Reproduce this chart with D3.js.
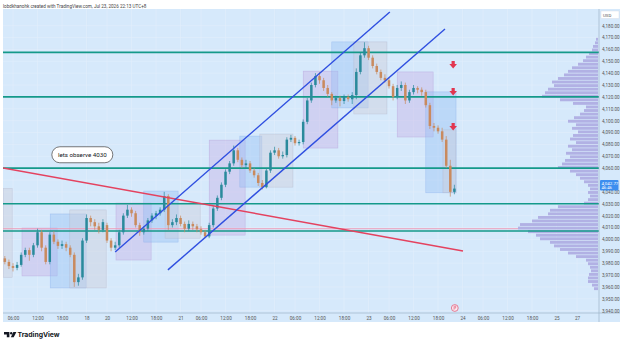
<!DOCTYPE html>
<html>
<head>
<meta charset="UTF-8">
<title>XAUUSD 1h</title>
<script src="https://cdnjs.cloudflare.com/ajax/libs/d3/7.8.5/d3.min.js"></script>
<style>
  html, body { margin: 0; padding: 0; background: #ffffff; }
  svg { display: block; font-family: Roboto, "DejaVu Sans", sans-serif; }
</style>
</head>
<body>
<div id="chart"></div>
<script>
    // hourly candles, index 0 = Fri 17 06:00
    const barIndex = [-2,-1,0,1,2,3,4,5,6,7,8,9,10,11,12,13,14,15,16,17,18,19,20,21,22,23,24,25,26,27,28,29,30,31,32,33,34,35,36,37,38,39,40,41,42,43,44,45,46,47,48,49,50,51,52,53,54,55,56,57,58,59,60,61,62,63,64,65,66,67,68,69,70,71,72,73,74,75,76,77,78,79,80,81,82,83,84,85,86,87,88,89,90,91,92,93,94,95,96,97,98,99,100,101,102,103,104,105,106,107,108];
    const opens  = [3984,3981,3977.5,3976,3978.5,3987,3991,3987,3995,4006,3993,3981,4004,3998,3994.5,3996,3993,3987,3964,3968,3999,4018,4014.5,4011,4008,4012,3999,3993,3995,4006,4020,4025,4022,4012,4006,4009,4016,4020,4022,4025,4036.5,4012,4014.5,4018,4013,4009,4013,4011,4008.5,4006,4002.5,4012,4026,4035,4046,4057,4064,4075,4067,4062.5,4064,4058,4054,4047.5,4044,4058,4073,4075,4070,4071,4084,4085.5,4081,4082,4099,4117,4130,4137.5,4134,4127.5,4122.5,4117,4119,4116.5,4120,4118,4121.5,4141,4155,4161,4153,4146,4141,4136,4134,4129,4120,4127.5,4130,4117,4124,4127.5,4126,4124,4113,4095.5,4094,4091,4084,4062,4040];
    const highs  = [3986,3983,3980,3981,3989,3993,3993,3997,4009,4008,3995,4006,4007,4000,3999,3998,3995,3989,3971,4001,4021,4020,4017,4014,4017,4014,4001,3998,4008,4022,4029,4027,4024,4014,4011,4018,4022,4024,4027,4040,4038,4017,4021,4020,4015,4016,4015,4013,4011,4008,4014,4028,4037,4048,4059,4066,4079,4077,4069,4067,4066,4060,4056,4050,4060,4075,4078,4077,4074,4086,4088,4087,4084,4101,4119,4132,4140,4141,4136,4130,4124,4121,4121,4122,4122,4124,4144,4157,4166,4163,4155,4148,4143,4139,4136,4131,4130,4133,4132,4126,4130,4129,4128,4126,4115,4098,4096,4094,4087,4067,4046];
    const lows   = [3979,3975,3973,3974,3977,3985,3982,3985,3993,3990,3979,3979,3996,3992,3992,3990,3985,3960,3961,3966,3997,4011,4008,4005,4006,3997,3990,3991,3993,4004,4018,4019,4010,4003,4004,4007,4014,4017,4020,4023,4008,4010,4012,4011,4006,4007,4008,4006,4004,4001,4001,4010,4024,4033,4044,4055,4062,4065,4060,4060,4056,4052,4045,4042,4043,4056,4071,4068,4068,4069,4082,4079,4079,4080,4097,4115,4128,4131,4125,4120,4113,4115,4112,4114,4116,4114,4118,4139,4153,4151,4144,4139,4134,4132,4127,4117,4118,4125,4114,4115,4122,4123,4121,4111,4093,4091,4089,4082,4060,4036,4038];
    const closes = [3981,3977.5,3976,3978.5,3987,3991,3987,3995,4006,3993,3981,4004,3998,3994.5,3996,3993,3987,3964,3968,3999,4018,4014.5,4011,4008,4014.5,3999,3993,3995,4006,4020,4025,4022,4012,4006,4009,4016,4020,4022,4025,4036.5,4012,4014.5,4018,4013,4009,4013,4011,4008.5,4006,4002.5,4012,4026,4035,4046,4057,4064,4075,4067,4062.5,4064,4058,4054,4047.5,4044,4058,4073,4075,4070,4071,4084,4085.5,4081,4082,4099,4117,4130,4137.5,4134,4127.5,4122.5,4117,4119,4116.5,4120,4118,4121.5,4141,4155,4161,4153,4146,4141,4136,4134,4129,4120,4127.5,4130,4117,4124,4127.5,4126,4124,4113,4095.5,4094,4091,4084,4062,4040,4042.77];

    // time axis
    const tickIndex  = [0,6,12,18,23,29,35,41,46,52,58,64,69,75,81,87,92,98,104,110,115,121,127,133,138];
    const tickLabels = ["06:00","12:00","18:00","18","20","12:00","18:00","21","06:00","12:00","18:00","22","06:00","12:00","18:00","23","06:00","12:00","18:00","24","06:00","12:00","18:00","25","27"];

    // price axis (4,050 sits under the last-price tag)
    const priceTicks = [3940,3950,3960,3970,3980,3990,4000,4010,4020,4030,4040,4060,4070,4080,4090,4100,4110,4120,4130,4140,4150,4160,4170,4180];
    const gridPrices = [3940,3950,3960,3970,3980,3990,4000,4010,4020,4030,4040,4050,4060,4070,4080,4090,4100,4110,4120,4130,4140,4150,4160,4170,4180];

    // horizontal levels
    const levels = [4157.5, 4120, 4060, 4030, 4007];
    const pocLevel = 4009;

    // session boxes: start bar, end bar, top price, bottom price, kind
    const boxStart = [-2.4, 2.2, 9.1, 13.9, 25.2, 32, 37.2, 48, 55.5, 60.4, 71, 78, 83.4, 94, 101, 105.2];
    const boxEnd   = [-0.2, 10.8, 17.9, 22.8, 33.8, 40.4, 45.8, 56.8, 60.9, 68.5, 79.5, 86.9, 91.5, 102.8, 108.4, 108.4];
    const boxTop   = [4043, 4009.6, 4021.4, 4024.8, 4030.6, 4040.7, 4030.6, 4083.6, 4087, 4088.7, 4141.7, 4166.3, 4166.3, 4141, 4124.2, 4092.2];
    const boxBot   = [3968, 3969.2, 3959.1, 3959.1, 3982.6, 3997.7, 4001, 4003.6, 4044, 4044, 4076.9, 4110.7, 4105.6, 4086.2, 4039.2, 4039.2];
    const boxKind  = ["grey","purple","blue","grey","purple","blue","grey","purple","blue","grey","purple","blue","grey","purple","blue","grey"];

    // trend lines: [bar, price] pairs
    const channelUpper = [[25, 3989.4], [92.2, 4191.5]];
    const channelLower = [[37.9, 3974.3], [105.7, 4177.2]];
    const redTrend     = [[-2.45, 4060.2], [110.1, 3990.3]];

    // red arrow markers
    const arrowBar   = [107.7, 107.7, 107.7];
    const arrowPrice = [4146.9, 4124.2, 4094.7];

    // volume profile (3$ rows)
    const vpLow = [4167,4164,4161,4158,4155,4152,4149,4146,4143,4140,4137,4134,4131,4128,4125,4122,4119,4116,4113,4110,4107,4104,4101,4098,4095,4092,4089,4086,4083,4080,4077,4074,4071,4068,4065,4062,4059,4056,4053,4050,4047,4044,4041,4038,4035,4032,4029,4026,4023,4020,4017,4014,4011,4008,4005,4002,3999,3996,3993,3990,3987,3984,3981,3978,3975,3972,3969,3966,3963,3960,3957];
    const vpVol = [2,3,5,6,9,12,15,20,26,30,34,40,46,44,50,53,56,38,25,12,14,18,24,30,22,26,20,25,28,22,30,26,32,28,33,36,40,28,22,18,14,10,8,10,8,10,14,40,48,50,60,66,78,80,70,62,58,48,44,38,30,22,12,10,8,7,9,10,10,6,4];

    const lastPrice = 4042.77;

    const W = 625, H = 343;
    const plotL = 3, plotR = 599, plotT = 9, plotB = 313;

    const x = d3.scaleLinear().domain([0, 100]).range([13, 421.7]);
    const y = d3.scaleLinear().domain([3938, 4194]).range([plotB, plotT]);
    const xVol = d3.scaleLinear().domain([0, d3.max(vpVol)]).range([598, 518]);

    const svg = d3.select("#chart").append("svg")
        .attr("width", W)
        .attr("height", H);

    // header text
    svg.append("text")
        .attr("x", 3).attr("y", 7.5)
        .attr("font-size", 4.6)
        .attr("fill", "#444")
        .text("lobdkhanohk created with TradingView.com, Jul 23, 2026 22:13 UTC+8");

    // chart background
    svg.append("rect")
        .attr("x", plotL).attr("y", plotT)
        .attr("width", 620 - plotL).attr("height", 322 - plotT)
        .attr("fill", "#d6e9fb");

    svg.append("clipPath").attr("id", "plot")
        .append("rect")
        .attr("x", plotL).attr("y", plotT)
        .attr("width", plotR - plotL).attr("height", plotB - plotT);

    const plot = svg.append("g").attr("clip-path", "url(#plot)");

    // grid
    plot.selectAll(".vgrid")
        .data(tickIndex)
        .enter().append("line")
        .attr("x1", d => x(d)).attr("x2", d => x(d))
        .attr("y1", plotT).attr("y2", plotB)
        .attr("stroke", "#e3effb").attr("stroke-width", 0.6);

    plot.selectAll(".hgrid")
        .data(gridPrices)
        .enter().append("line")
        .attr("x1", plotL).attr("x2", plotR)
        .attr("y1", d => y(d)).attr("y2", d => y(d))
        .attr("stroke", "#e3effb").attr("stroke-width", 0.6);

    // session boxes
    const boxFill = { purple: "rgba(195,165,228,0.36)", blue: "rgba(145,188,245,0.38)", grey: "rgba(205,205,218,0.42)" };
    const boxStroke = { purple: "rgba(175,145,212,0.55)", blue: "rgba(125,168,235,0.55)", grey: "rgba(175,175,195,0.55)" };
    plot.selectAll(".box")
        .data(boxStart)
        .enter().append("rect")
        .attr("x", (d, i) => x(d))
        .attr("y", (d, i) => y(boxTop[i]))
        .attr("width", (d, i) => x(boxEnd[i]) - x(d))
        .attr("height", (d, i) => y(boxBot[i]) - y(boxTop[i]))
        .attr("fill", (d, i) => boxFill[boxKind[i]])
        .attr("stroke", (d, i) => boxStroke[boxKind[i]])
        .attr("stroke-width", 0.5);

    // volume profile
    plot.selectAll(".vp")
        .data(vpVol)
        .enter().append("rect")
        .attr("x", d => xVol(d))
        .attr("y", (d, i) => y(vpLow[i] + 3) + 0.35)
        .attr("width", d => 598 - xVol(d))
        .attr("height", (d, i) => y(vpLow[i]) - y(vpLow[i] + 3) - 0.7)
        .attr("fill", "#a8a2de")
        .attr("opacity", 0.8);

    // POC line
    plot.append("line")
        .attr("x1", plotL).attr("x2", xVol(d3.max(vpVol)))
        .attr("y1", y(pocLevel)).attr("y2", y(pocLevel))
        .attr("stroke", "#f19ab5").attr("stroke-width", 0.9);

    // horizontal levels
    plot.selectAll(".level")
        .data(levels)
        .enter().append("line")
        .attr("x1", plotL).attr("x2", plotR)
        .attr("y1", d => y(d)).attr("y2", d => y(d))
        .attr("stroke", "#14998a").attr("stroke-width", 1.6);

    // candles
    const upCol = "#2a8a9c", downCol = "#c98a5e";
    const col = i => closes[i] >= opens[i] ? upCol : downCol;
    const candles = plot.selectAll(".candle")
        .data(barIndex)
        .enter().append("g");

    candles.append("line")
        .attr("x1", d => x(d)).attr("x2", d => x(d))
        .attr("y1", (d, i) => y(highs[i]))
        .attr("y2", (d, i) => y(lows[i]))
        .attr("stroke", (d, i) => col(i))
        .attr("stroke-width", 0.7);

    candles.append("rect")
        .attr("x", d => x(d) - 1.25)
        .attr("width", 2.5)
        .attr("y", (d, i) => y(Math.max(opens[i], closes[i])))
        .attr("height", (d, i) => Math.max(0.8, Math.abs(y(opens[i]) - y(closes[i]))))
        .attr("fill", (d, i) => col(i));

    // trend lines
    const line = d3.line().x(d => x(d[0])).y(d => y(d[1]));
    plot.append("path").attr("d", line(redTrend))
        .attr("stroke", "#e4425f").attr("stroke-width", 1.5).attr("fill", "none");
    plot.append("path").attr("d", line(channelUpper))
        .attr("stroke", "#2f4fe0").attr("stroke-width", 1.4).attr("fill", "none");
    plot.append("path").attr("d", line(channelLower))
        .attr("stroke", "#2f4fe0").attr("stroke-width", 1.4).attr("fill", "none");

    // red arrows
    plot.selectAll(".arrow")
        .data(arrowBar)
        .enter().append("path")
        .attr("transform", (d, i) => "translate(" + x(d) + "," + y(arrowPrice[i]) + ")")
        .attr("d", "M-1.6,-4 h3.2 v3 h2.2 l-3.8,4.5 l-3.8,-4.5 h2.2 z")
        .attr("fill", "#e2364f");

    // callout
    const callout = svg.append("g")
        .attr("transform", "translate(" + x(9.5) + "," + y(4078) + ")");
    callout.append("rect")
        .attr("width", 61).attr("height", 16).attr("rx", 8)
        .attr("fill", "#ffffff").attr("stroke", "#555").attr("stroke-width", 0.8);
    callout.append("text")
        .attr("x", 30.5).attr("y", 10.3)
        .attr("text-anchor", "middle")
        .attr("font-size", 6.2)
        .attr("fill", "#131722")
        .text("lets observe 4030");

    // event marker near the time axis
    const ev = svg.append("g").attr("transform", "translate(" + x(108.1) + "," + (plotB - 5) + ")");
    ev.append("circle").attr("r", 3.4).attr("fill", "#fbe9ef").attr("stroke", "#e0607e").attr("stroke-width", 0.8);
    ev.append("path").attr("d", "M-0.8,-1.8 v3.6 M-0.8,-1.8 h2 l-0.6,0.9 l0.6,0.9 h-2").attr("stroke", "#e0607e").attr("stroke-width", 0.6).attr("fill", "none");

    // axes frame
    svg.append("line")
        .attr("x1", plotL).attr("x2", 620)
        .attr("y1", plotB).attr("y2", plotB)
        .attr("stroke", "#9fb4c9").attr("stroke-width", 0.7);
    svg.append("line")
        .attr("x1", plotR).attr("x2", plotR)
        .attr("y1", plotT).attr("y2", 322)
        .attr("stroke", "#9fb4c9").attr("stroke-width", 0.7);

    // time axis
    const xAxis = d3.axisBottom(x)
        .tickValues(tickIndex)
        .tickFormat((d, i) => tickLabels[i])
        .tickSize(0)
        .tickPadding(4);
    const gx = svg.append("g")
        .attr("transform", "translate(0," + plotB + ")")
        .call(xAxis);
    gx.select(".domain").remove();
    gx.selectAll("text").attr("font-size", 4.6).attr("fill", "#555").attr("font-family", "Roboto, 'DejaVu Sans', sans-serif");

    // price axis
    const yAxis = d3.axisRight(y)
        .tickValues(priceTicks)
        .tickFormat(d3.format(",.2f"))
        .tickSize(0)
        .tickPadding(3);
    const gy = svg.append("g")
        .attr("transform", "translate(" + plotR + ",0)")
        .call(yAxis);
    gy.select(".domain").remove();
    gy.selectAll("text").attr("font-size", 4.6).attr("fill", "#555").attr("font-family", "Roboto, 'DejaVu Sans', sans-serif");

    // USD box
    svg.append("rect").attr("x", 601).attr("y", 11).attr("width", 18).attr("height", 7.5)
        .attr("fill", "#ffffff").attr("stroke", "#cfd8e3").attr("stroke-width", 0.4);
    svg.append("text").attr("x", 603).attr("y", 16.6).attr("font-size", 4.4).attr("fill", "#555").text("USD");

    // last price label
    const lp = y(lastPrice);
    svg.append("rect").attr("x", 600).attr("y", lp - 8.5).attr("width", 18.5).attr("height", 10.5)
        .attr("rx", 1).attr("fill", "#3d8eef");
    svg.append("text").attr("x", 601.5).attr("y", lp - 4).attr("font-size", 4.4).attr("fill", "#fff").text(d3.format(",.2f")(lastPrice));
    svg.append("text").attr("x", 601.5).attr("y", lp + 0.6).attr("font-size", 4.2).attr("fill", "#fff").text("46:46");

    // TradingView logo
    const logo = svg.append("g");
    logo.append("path").attr("d", "M4,332 h5.4 v5.2 h-2.6 v-2.8 h-2.8 z").attr("fill", "#131722");
    logo.append("circle").attr("cx", 11.2).attr("cy", 333.3).attr("r", 1.2).attr("fill", "#131722");
    logo.append("path").attr("d", "M13.4,332 h3 l-2.7,5.2 h-2.9 z").attr("fill", "#131722");
    logo.append("text").attr("x", 17.5).attr("y", 337.2)
        .attr("font-size", 6.8).attr("font-weight", "bold").attr("fill", "#131722")
        .attr("font-family", "Inter, Roboto, sans-serif")
        .text("TradingView");
</script>
</body>
</html>
